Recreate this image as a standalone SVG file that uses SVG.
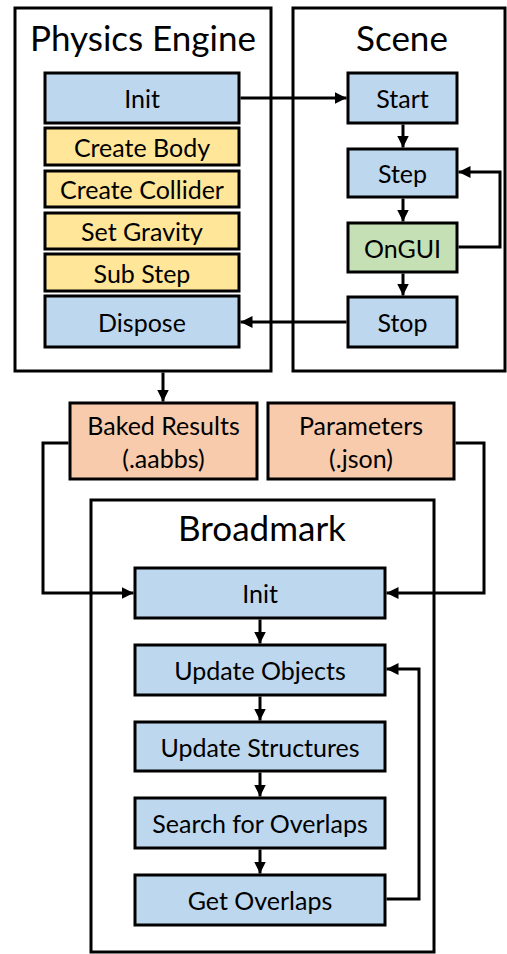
<svg xmlns="http://www.w3.org/2000/svg" width="507" height="954" viewBox="0 0 507 954">
<style>
.c{fill:#fff;stroke:#000;stroke-width:3}
.b{fill:#BDD7EE;stroke:#000;stroke-width:3}
.y{fill:#FFE699;stroke:#000;stroke-width:3}
.g{fill:#C5E0B4;stroke:#000;stroke-width:3}
.o{fill:#F8CBAD;stroke:#000;stroke-width:3}
text{font-family:Lato,"Open Sans","Liberation Sans",sans-serif;fill:#000;text-anchor:middle;dominant-baseline:central}
.t{font-size:35px}
.n{font-size:25px}
.e{fill:none;stroke:#000;stroke-width:3}
</style>
<defs>
<marker id="a" viewBox="0 0 10 10" refX="10" refY="5" markerWidth="4" markerHeight="4" orient="auto" markerUnits="strokeWidth">
<path d="M0,0 L10,5 L0,10 z" fill="#000"/>
</marker>
</defs>
<g id="physics"><rect class="c" x="15" y="8" width="256" height="363"/><text class="t" x="143" y="37">Physics Engine</text></g>
<g id="scene"><rect class="c" x="293" y="8" width="212" height="363"/><text class="t" x="402" y="37">Scene</text></g>
<g id="broadmark"><rect class="c" x="91" y="500" width="343" height="452"/><text class="t" x="262" y="527">Broadmark</text></g>
<g id="pe-init"><rect class="b" x="45" y="73" width="194" height="50"/><text class="n" x="142" y="98">Init</text></g>
<g id="create-body"><rect class="y" x="45" y="128" width="194" height="37"/><text class="n" x="142" y="146.5">Create Body</text></g>
<g id="create-collider"><rect class="y" x="45" y="171" width="194" height="36"/><text class="n" x="142" y="189">Create Collider</text></g>
<g id="set-gravity"><rect class="y" x="45" y="213" width="194" height="36"/><text class="n" x="142" y="231">Set Gravity</text></g>
<g id="sub-step"><rect class="y" x="45" y="254" width="194" height="37"/><text class="n" x="142" y="272.5">Sub Step</text></g>
<g id="dispose"><rect class="b" x="45" y="296" width="194" height="51"/><text class="n" x="142" y="321.5">Dispose</text></g>
<g id="start"><rect class="b" x="348" y="73" width="109" height="50"/><text class="n" x="402.5" y="98">Start</text></g>
<g id="step"><rect class="b" x="348" y="149" width="109" height="48"/><text class="n" x="402.5" y="173">Step</text></g>
<g id="ongui"><rect class="g" x="348" y="223" width="109" height="49"/><text class="n" x="402.5" y="247.5">OnGUI</text></g>
<g id="stop"><rect class="b" x="348" y="297" width="109" height="50"/><text class="n" x="402.5" y="322">Stop</text></g>
<g id="baked"><rect class="o" x="70" y="403" width="187" height="76"/><text class="n" x="163.5" y="425">Baked Results</text><text class="n" x="163.5" y="458">(.aabbs)</text></g>
<g id="params"><rect class="o" x="268" y="403" width="186" height="76"/><text class="n" x="361" y="425">Parameters</text><text class="n" x="361" y="458">(.json)</text></g>
<g id="bm-init"><rect class="b" x="135" y="568" width="250" height="50"/><text class="n" x="260" y="593">Init</text></g>
<g id="update-objects"><rect class="b" x="135" y="645" width="250" height="50"/><text class="n" x="260" y="670">Update Objects</text></g>
<g id="update-structures"><rect class="b" x="135" y="722" width="250" height="49"/><text class="n" x="260" y="746.5">Update Structures</text></g>
<g id="search"><rect class="b" x="135" y="798" width="250" height="50"/><text class="n" x="260" y="823">Search for Overlaps</text></g>
<g id="get-overlaps"><rect class="b" x="135" y="875" width="250" height="50"/><text class="n" x="260" y="900">Get Overlaps</text></g>
<g id="connectors" class="e">
<path class="e" d="M240.5,98 H346.5" marker-end="url(#a)"/>
<path class="e" d="M346.5,322 H240.5" marker-end="url(#a)"/>
<path class="e" d="M403,124.5 V147.5" marker-end="url(#a)"/>
<path class="e" d="M403,198.5 V221.5" marker-end="url(#a)"/>
<path class="e" d="M403,273.5 V295.5" marker-end="url(#a)"/>
<path class="e" d="M458.5,247 H500 V172 H458.5" marker-end="url(#a)"/>
<path class="e" d="M163,372.5 V401.5" marker-end="url(#a)"/>
<path class="e" d="M68.5,443 H43 V593 H133.5" marker-end="url(#a)"/>
<path class="e" d="M455.5,443 H484 V593 H386.5" marker-end="url(#a)"/>
<path class="e" d="M260,619.5 V643.5" marker-end="url(#a)"/>
<path class="e" d="M260,696.5 V720.5" marker-end="url(#a)"/>
<path class="e" d="M260,772.5 V796.5" marker-end="url(#a)"/>
<path class="e" d="M260,849.5 V873.5" marker-end="url(#a)"/>
<path class="e" d="M386.5,899 H419 V669 H386.5" marker-end="url(#a)"/>
</g>
</svg>
